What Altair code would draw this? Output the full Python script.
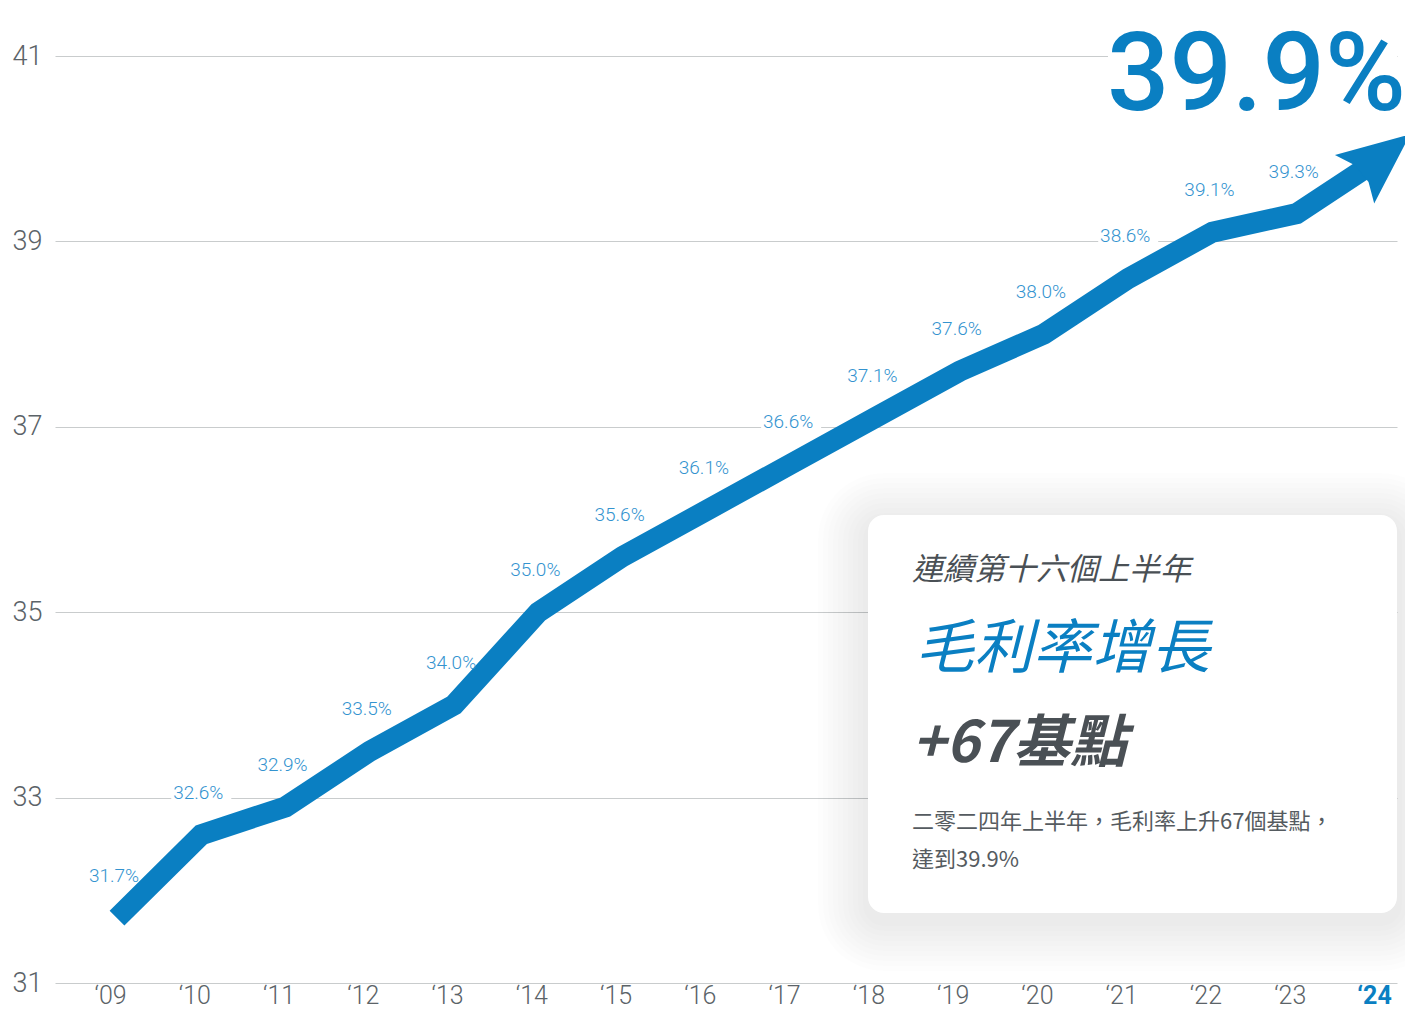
import altair as alt
import pandas as pd

# ---- data ----
years = [2009, 2010, 2011, 2012, 2013, 2014, 2015, 2016,
         2017, 2018, 2019, 2020, 2021, 2022, 2023, 2024]
margins = [31.7, 32.6, 32.9, 33.5, 34.0, 35.0, 35.6, 36.1,
           36.6, 37.1, 37.6, 38.0, 38.6, 39.1, 39.3, 39.9]
y_ticks = [31, 33, 35, 37, 39, 41]
headline = "39.9%"
card_kicker = "連續第十六個上半年"
card_title = "毛利率增長"
card_value = "+67基點"
card_note_1 = "二零二四年上半年，毛利率上升67個基點，"
card_note_2 = "達到39.9%"

# ---- styles ----
BLUE = "#0a7fc2"
LABEL_BLUE = "#3393cf"
GRAY = "#5b6368"
DARK = "#4a5055"
NOTE = "#555b60"
GRID = "#c9cccd"
CJK = "Noto Sans CJK TC"

df = pd.DataFrame({
    "year": years,
    "margin": margins,
    "label": [f"{m:.1f}%" for m in margins],
})
one = pd.DataFrame({"k": [0]})

x_enc = alt.X(
    "year:Q",
    scale=alt.Scale(domain=[2008.264, 2024.19], nice=False, zero=False),
    axis=alt.Axis(
        values=years, title=None, grid=False, domain=False, ticks=False,
        labelExpr="'\u2018' + substring(toString(datum.value), 2, 4)",
        labelFont="Roboto", labelFontSize=25, labelPadding=20,
        labelBaseline="alphabetic",
        labelOffset=-7, labelFlush=False, labelOverlap=False,
        labelColor=alt.condition("datum.value == 2024", alt.value(BLUE), alt.value(GRAY)),
        labelFontWeight=alt.condition("datum.value == 2024", alt.value("bold"), alt.value(300)),
    ),
)
y_enc = alt.Y(
    "margin:Q",
    scale=alt.Scale(domain=[31, 41], nice=False, zero=False),
    axis=alt.Axis(
        values=y_ticks, title=None, grid=True, gridColor=GRID, gridWidth=1,
        domain=False, ticks=False, labelFont="Roboto", labelFontSize=27,
        labelFontWeight=300, labelColor=GRAY, labelPadding=13,
    ),
)

base = alt.Chart(df).encode(x=x_enc, y=y_enc)
labelled = base.transform_filter("datum.year < 2024")

label_bg = labelled.mark_point(
    shape="M-1,-0.36L1,-0.36L1,0.36L-1,0.36Z", size=3600, filled=True,
    fill="white", strokeWidth=0, opacity=1, yOffset=-42,
)
line = base.mark_line(color=BLUE, strokeWidth=21, strokeCap="butt", strokeJoin="miter")
arrow = base.transform_filter("datum.year == 2024").mark_point(
    shape="M0.94,0L-0.85,-0.78L-0.62,-0.27L-0.62,0.27L-0.85,0.78Z",
    size=6400, angle=321, filled=True, fill=BLUE, strokeWidth=0, opacity=1,
)
labels = labelled.mark_text(
    color=LABEL_BLUE, font="Roboto", fontWeight=300, fontSize=19,
    dy=-42, dx=-3, baseline="middle", align="center",
).encode(text="label:N")

# mask behind the headline on the top gridline
mask = alt.Chart(one).mark_rect(fill="white").encode(
    x=alt.value(1053), x2=alt.value(1342), y=alt.value(-6), y2=alt.value(6))

head = alt.Chart(one).mark_text(
    text=headline, font="Roboto", fontWeight=500,
    fontSize=110, color=BLUE, align="right", baseline="alphabetic",
).encode(x=alt.value(1351), y=alt.value(54))

# card with fake soft shadow
cx1, cx2, cy1, cy2 = 813, 1342, 459, 857
shadows = []
for i in range(1, 11):
    s = i * 5
    shadows.append(
        alt.Chart(one).mark_rect(fill="black", opacity=0.008, cornerRadius=16 + s).encode(
            x=alt.value(cx1 - s), x2=alt.value(cx2 + s),
            y=alt.value(cy1 - s + 8), y2=alt.value(cy2 + s + 8))
    )
card = alt.Chart(one).mark_rect(fill="white", cornerRadius=16).encode(
    x=alt.value(cx1), x2=alt.value(cx2), y=alt.value(cy1), y2=alt.value(cy2))


def ctext(txt, xx, yy, size, color, weight="normal"):
    return alt.Chart(one).mark_text(
        text=txt, font=CJK, fontSize=size, color=color, fontStyle="italic",
        fontWeight=weight, align="left", baseline="middle",
    ).encode(x=alt.value(xx), y=alt.value(yy))


def ntext(txt, xx, yy):
    return alt.Chart(one).mark_text(
        text=txt, font=CJK, fontSize=22, color=NOTE, fontWeight="normal",
        align="left", baseline="middle",
    ).encode(x=alt.value(xx), y=alt.value(yy))


texts = [
    ctext(card_kicker, 857, 515, 31, DARK),
    ctext(card_title, 860, 594, 59, BLUE),
    ctext(card_value, 857, 689, 57, DARK, "bold"),
    ntext(card_note_1, 857, 766),
    ntext(card_note_2, 857, 804),
]

chart = alt.layer(
    label_bg, line, arrow, labels, mask, head, *shadows, card, *texts
).properties(
    width=1342, height=927,
    padding={"left": 47, "top": 48, "right": 8, "bottom": 26},
    autosize=alt.AutoSizeParams(type="none"),
    background="white",
).configure_view(stroke=None)

chart.save("out.html", embed_options={"renderer": "svg", "actions": False})
